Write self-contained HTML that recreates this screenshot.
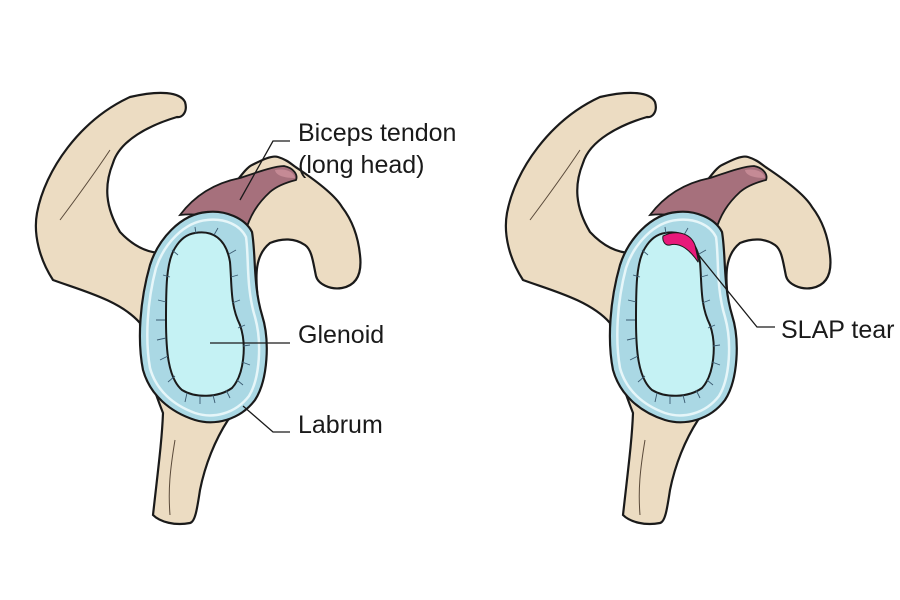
<!DOCTYPE html>
<html><head><meta charset="utf-8"><style>
html,body{margin:0;padding:0;background:#fff;}
svg{display:block;}
text{font-family:"Liberation Sans",Arial,sans-serif;font-size:25px;fill:#1a1a1a;}
</style></head><body>
<svg width="900" height="600" viewBox="0 0 900 600" xmlns="http://www.w3.org/2000/svg">
<defs>
<g id="fig">
  <path d="M153,515 C158,470 162,440 163,413 C150,380 140,345 140,323 C120,300 80,290 53,280 C40,260 33,235 37,213 C45,170 80,120 130,97 C160,90 180,92 185,102 C188,112 182,118 177,117 C150,125 120,140 113,163 C104,185 105,207 120,232 C135,248 150,253 162,253 C175,230 200,205 225,195 C235,185 245,168 252,165 C262,160 272,155 278,157 C288,160 292,165 297,168 C315,180 335,195 342,207 C352,220 358,235 360,255 C362,272 358,285 342,288 C330,290 318,284 316,276 C313,262 312,250 305,245 C295,238 282,238 270,243 C255,255 255,275 258,300 C265,360 255,400 228,420 C215,440 205,465 200,490 C197,510 195,522 190,523 C175,526 160,522 153,515 Z" fill="#ecdcc2" stroke="#1a1a1a" stroke-width="2.2"/>
  <path d="M60,220 C75,200 90,180 110,150" fill="none" stroke="#5a4a3a" stroke-width="1"/>
  <path d="M175,440 C170,470 168,490 170,515" fill="none" stroke="#5a4a3a" stroke-width="1"/>
  <path d="M180,215 C195,195 215,183 240,178 C258,172 275,166 284,166 C294,168 298,175 296,180 C288,182 278,185 270,192 C258,203 250,215 245,233 C230,220 205,212 180,215 Z" fill="#a6707c" stroke="#1a1a1a" stroke-width="1.8"/>
  <path d="M275,170 C286,168 294,172 295,178 C285,178 276,176 275,170 Z" fill="#c58a95"/>
  <path d="M207,212 C225,210 245,218 252,232 C256,255 253,285 262,315 C270,340 268,380 255,400 C240,420 215,426 195,420 C170,412 150,395 143,370 C137,340 140,300 150,265 C158,240 180,214 207,212 Z" fill="#aad8e4" stroke="#1a1a1a" stroke-width="2.2"/>
  <path d="M207,220 C225,218 240,225 246,237 C249,258 246,288 255,317 C262,342 260,378 249,396 C235,414 213,419 195,413 C173,405 156,390 150,368 C145,340 147,302 156,268 C164,244 184,222 207,220 Z" fill="none" stroke="#e6f6f9" stroke-width="2.5"/>
  <path d="M195,233 C212,230 226,238 230,262 C232,285 230,305 240,325 C247,345 244,375 232,388 C218,398 195,398 182,390 C168,378 166,350 166,320 C166,290 166,262 175,248 C181,238 188,234 195,233 Z" fill="#c5f2f4" stroke="#1a1a1a" stroke-width="2"/>
  <g stroke="#3a5a70" stroke-width="0.9">
    <path d="M158,300 L166,302 M156,320 L165,320 M157,340 L166,338 M160,360 L168,356 M168,382 L175,376 M185,402 L187,393 M200,404 L200,396 M215,403 L213,395 M230,398 L226,390 M243,385 L237,380 M250,365 L242,362 M250,345 L243,346 M245,325 L238,328 M240,300 L232,303 M238,275 L231,277 M236,250 L229,254 M218,228 L214,235 M195,227 L196,234 M172,250 L178,255 M163,275 L170,277"/>
  </g>
</g>
</defs>
<use href="#fig"/>
<g transform="translate(470,0)">
  <use href="#fig"/>
  <path d="M193,236 C205,230 220,232 225,245 C227,255 229,262 228,262 C220,250 210,242 200,245 C195,246 192,241 193,236 Z" fill="#e8197a" stroke="#1a1a1a" stroke-width="1"/>
</g>
<g fill="none" stroke="#1a1a1a" stroke-width="1.3">
  <path d="M240,200 L273,141 L290,141"/>
  <path d="M210,343 L290,343"/>
  <path d="M243,406 L273,432 L290,432"/>
  <path d="M697,253 L757,327 L775,327"/>
</g>
<text x="298" y="141">Biceps tendon</text>
<text x="298" y="173">(long head)</text>
<text x="298" y="343">Glenoid</text>
<text x="298" y="433">Labrum</text>
<text x="781" y="338">SLAP tear</text>
</svg>
</body></html>
